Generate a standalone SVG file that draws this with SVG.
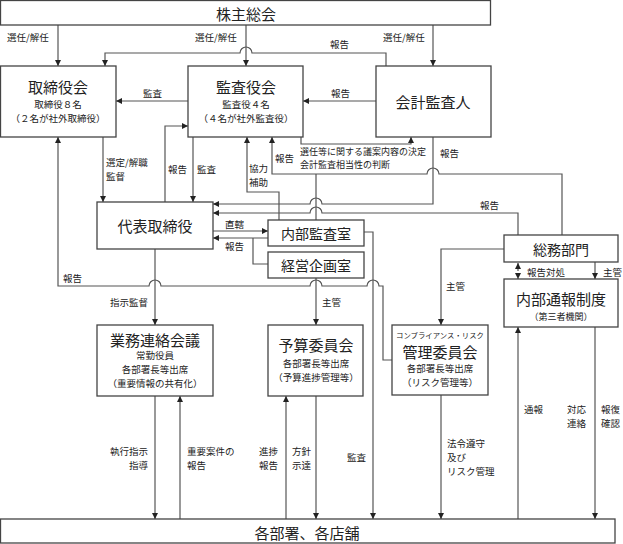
<svg xmlns="http://www.w3.org/2000/svg" width="623" height="544" viewBox="0 0 623 544">
<style>
text{font-family:"Noto Sans CJK JP","Noto Sans",sans-serif;fill:#222;}
.box{fill:#fff;stroke:#444;stroke-width:1.3;}
.t{font-size:15px;text-anchor:middle;dominant-baseline:central;}
.m{font-size:14px;text-anchor:middle;dominant-baseline:central;}
.s{font-size:9.5px;text-anchor:middle;dominant-baseline:central;}
.xs{font-size:9px;text-anchor:middle;dominant-baseline:central;}
.l{font-size:9.5px;}
.r{font-size:9.5px;text-anchor:end;}
.c path{fill:none;stroke:#555;stroke-width:1.2;}
.c .d{stroke-dasharray:3 2;}
</style>
<defs>
<marker id="a" viewBox="0 0 10 10" refX="10" refY="5" markerWidth="6" markerHeight="6" markerUnits="userSpaceOnUse" orient="auto-start-reverse">
<path d="M0,0 L10,5 L0,10 z" fill="#222"/>
</marker>
</defs>

<g id="connectors" class="c">
<path d="M58,25 V66" marker-end="url(#a)"/>
<path d="M246,25 V66" marker-end="url(#a)"/>
<path d="M433,25 V66" marker-end="url(#a)"/>
<path d="M386,66 V53 H252 A6,6 0 0 0 240,53 H105 V66" marker-end="url(#a)"/>
<path d="M188,101 H116" marker-end="url(#a)"/>
<path d="M376,101 H303" marker-end="url(#a)"/>
<path d="M301,137 V144 H411 V137" marker-end="url(#a)"/>
<path d="M103,137 V202" marker-end="url(#a)"/>
<path d="M165,202 V126 H188" marker-end="url(#a)"/>
<path d="M193,137 V202" marker-end="url(#a)"/>
<path d="M279,220 V192 H247 V137" marker-end="url(#a)"/>
<path d="M562,235 V174 H439 A6,6 0 0 0 427,174 H272 V137" marker-end="url(#a)"/>
<path d="M316,174 V220"/>
<path d="M433,137 V204 H322 A6,6 0 0 0 310,204 H213" marker-end="url(#a)"/>
<path d="M518,235 V213 H322 A6,6 0 0 0 310,213 H213" marker-end="url(#a)"/>
<path d="M213,231 H268" marker-end="url(#a)"/>
<path d="M268,238 H213" marker-end="url(#a)"/>
<path d="M253,238 V264 H268"/>
<path d="M316,278 V325" marker-end="url(#a)"/>
<path d="M364,232 H373 V519" marker-end="url(#a)"/>
<path d="M392,360 H383 V286 H379 A6,6 0 0 0 367,286 H322 A6,6 0 0 0 310,286 H161 A6,6 0 0 0 149,286 H58 V137" marker-end="url(#a)"/>
<path d="M155,249 V325" marker-end="url(#a)"/>
<path d="M504,249 H441 V325" marker-end="url(#a)"/>
<path class="d" d="M518,263 V279" marker-start="url(#a)" marker-end="url(#a)"/>
<path class="d" d="M518,279 V327"/>
<path d="M595,262 V279" marker-end="url(#a)"/>
<path d="M518,519 V327" marker-end="url(#a)"/>
<path d="M595,327 V519" marker-end="url(#a)"/>
<path d="M155,396 V519" marker-end="url(#a)"/>
<path d="M180,519 V396" marker-end="url(#a)"/>
<path d="M286,519 V396" marker-end="url(#a)"/>
<path d="M316,396 V519" marker-end="url(#a)"/>
<path d="M441,395 V519" marker-end="url(#a)"/>
</g>

<g id="labels">
<text class="l" x="7" y="41">選任/解任</text>
<text class="l" x="195" y="41">選任/解任</text>
<text class="l" x="383" y="41">選任/解任</text>
<text class="l" x="330" y="48">報告</text>
<text class="l" x="143" y="97">監査</text>
<text class="l" x="331" y="97">報告</text>
<text class="l" x="106" y="166">選定/解職</text>
<text class="l" x="106" y="180">監督</text>
<text class="l" x="168" y="173">報告</text>
<text class="l" x="197" y="173">監査</text>
<text class="l" x="249" y="172">協力</text>
<text class="l" x="249" y="186">補助</text>
<text class="l" x="275" y="162">報告</text>
<text x="300" y="155" style="font-size:9px">選任等に関する議案内容の決定</text>
<text x="300" y="168" style="font-size:9px">会計監査相当性の判断</text>
<text class="l" x="440" y="157">報告</text>
<text class="l" x="480" y="209">報告</text>
<text class="l" x="225" y="228">直轄</text>
<text class="l" x="225" y="250">報告</text>
<text class="l" x="63" y="282">報告</text>
<text class="l" x="110" y="306">指示監督</text>
<text class="l" x="322" y="306">主管</text>
<text class="l" x="446" y="290">主管</text>
<text class="l" x="527" y="276">報告対処</text>
<text class="l" x="603" y="276">主管</text>
<text class="r" x="148" y="455">執行指示</text>
<text class="r" x="148" y="469">指導</text>
<text class="l" x="187" y="455">重要案件の</text>
<text class="l" x="187" y="469">報告</text>
<text class="l" x="259" y="455">進捗</text>
<text class="l" x="259" y="469">報告</text>
<text class="l" x="292" y="455">方針</text>
<text class="l" x="292" y="469">示達</text>
<text class="l" x="347" y="461">監査</text>
<text class="l" x="447" y="447">法令遵守</text>
<text class="l" x="447" y="461">及び</text>
<text class="l" x="447" y="475">リスク管理</text>
<text class="l" x="524" y="413">通報</text>
<text class="l" x="567" y="413">対応</text>
<text class="l" x="567" y="427">連絡</text>
<text class="l" x="601" y="413">報復</text>
<text class="l" x="601" y="427">確認</text>
</g>

<g id="shareholders">
<rect class="box" x="0.5" y="0.5" width="490" height="24.5"/>
<text class="t" x="246" y="13">株主総会</text>
</g>
<g id="board">
<rect class="box" x="0.5" y="66" width="115.5" height="71"/>
<text class="t" x="58" y="86">取締役会</text>
<text class="s" x="58" y="104">取締役８名</text>
<text class="s" x="58" y="118">（２名が社外取締役）</text>
</g>
<g id="auditors">
<rect class="box" x="188" y="66" width="115" height="71"/>
<text class="t" x="246" y="86">監査役会</text>
<text class="s" x="246" y="104">監査役４名</text>
<text class="s" x="246" y="118">（４名が社外監査役）</text>
</g>
<g id="accounting-auditor">
<rect class="box" x="376" y="66" width="115" height="71"/>
<text class="t" x="433" y="101">会計監査人</text>
</g>
<g id="representative">
<rect class="box" x="97" y="202" width="116" height="47"/>
<text class="t" x="155" y="225">代表取締役</text>
</g>
<g id="internal-audit">
<rect class="box" x="268" y="220" width="96" height="26"/>
<text class="m" x="316" y="233">内部監査室</text>
</g>
<g id="planning">
<rect class="box" x="268" y="252" width="96" height="26"/>
<text class="m" x="316" y="265">経営企画室</text>
</g>
<g id="general-affairs">
<rect class="box" x="504" y="235" width="114" height="27"/>
<text class="m" x="561" y="249">総務部門</text>
</g>
<g id="whistleblowing">
<rect class="box" x="504" y="279" width="114" height="48"/>
<text class="t" x="561" y="298">内部通報制度</text>
<text class="xs" x="561" y="316">（第三者機関）</text>
</g>
<g id="liaison">
<rect class="box" x="97" y="325" width="116" height="71"/>
<text class="t" x="155" y="339">業務連絡会議</text>
<text class="s" x="155" y="355">常勤役員</text>
<text class="s" x="155" y="369">各部署長等出席</text>
<text class="s" x="155" y="383">（重要情報の共有化）</text>
</g>
<g id="budget">
<rect class="box" x="268" y="325" width="95" height="71"/>
<text class="t" x="316" y="344">予算委員会</text>
<text class="s" x="316" y="363">各部署長等出席</text>
<text class="s" x="316" y="377">（予算進捗管理等）</text>
</g>
<g id="risk">
<rect class="box" x="392" y="325" width="96" height="70"/>
<text x="440" y="334" style="font-size:7.4px;text-anchor:middle;dominant-baseline:central">コンプライアンス・リスク</text>
<text class="t" x="440" y="351">管理委員会</text>
<text class="s" x="440" y="368">各部署長等出席</text>
<text class="s" x="440" y="382">（リスク管理等）</text>
</g>
<g id="departments">
<rect class="box" x="0.5" y="519" width="614.5" height="24"/>
<text class="t" x="307" y="532">各部署、各店舗</text>
</g>
</svg>
